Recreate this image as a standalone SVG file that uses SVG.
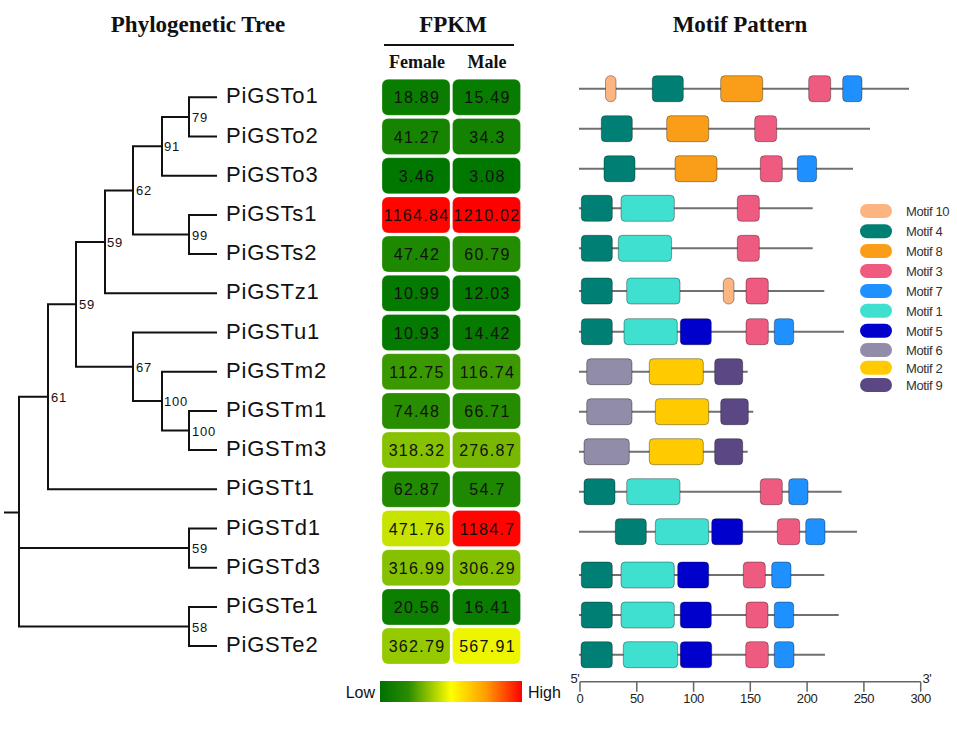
<svg xmlns="http://www.w3.org/2000/svg" width="957" height="734" viewBox="0 0 957 734">
<defs>
<linearGradient id="cbar" x1="0" y1="0" x2="1" y2="0">
<stop offset="0" stop-color="#007000"/>
<stop offset="0.2" stop-color="#2a8c00"/>
<stop offset="0.5" stop-color="#ffff00"/>
<stop offset="0.75" stop-color="#ff9a00"/>
<stop offset="1" stop-color="#ff0000"/>
</linearGradient>
<style>
.ttl{font-family:"Liberation Serif","Times New Roman",serif;font-weight:bold;font-size:23px;text-anchor:middle;fill:#111}
.sub{font-family:"Liberation Serif","Times New Roman",serif;font-weight:bold;font-size:18px;text-anchor:middle;fill:#111}
.leaf{font-family:"Liberation Sans",Arial,sans-serif;font-size:22px;letter-spacing:0.8px;fill:#111}
.bs{font-family:"Liberation Sans",Arial,sans-serif;font-size:13px;letter-spacing:0.8px;fill:#111}
.ln{stroke:#111;stroke-width:2;fill:none}
.cell rect{stroke:#ffffff;stroke-opacity:0.25;stroke-width:1}
.cell text{font-family:"Liberation Sans",Arial,sans-serif;font-size:16px;letter-spacing:1.3px;text-anchor:middle;fill:#111}
.bb{stroke:#707070;stroke-width:2}
.mf rect{stroke-width:1;stroke-opacity:0.35;stroke:#000}
.m10{fill:#fcb580}.m4{fill:#007f74}.m8{fill:#fa9e1a}.m3{fill:#ef5b80}.m7{fill:#1e90ff}
.m1{fill:#40e0d0}.m5{fill:#0000cd}.m6{fill:#918ca8}.m2{fill:#ffcb00}.m9{fill:#5c4785}
.lg{font-family:"Liberation Sans",Arial,sans-serif;font-size:13px;letter-spacing:-0.4px;fill:#333}
.ax{font-family:"Liberation Sans",Arial,sans-serif;font-size:13px;letter-spacing:-0.4px;fill:#222;text-anchor:middle}
.cb{font-family:"Liberation Sans",Arial,sans-serif;font-size:16px;fill:#111}
</style>
</defs>
<rect width="957" height="734" fill="#ffffff"/>

<g id="titles">
<text class="ttl" x="198" y="32">Phylogenetic Tree</text>
<text class="ttl" x="453" y="32">FPKM</text>
<text class="ttl" x="740" y="32">Motif Pattern</text>
<line x1="384" y1="45" x2="514" y2="45" stroke="#111" stroke-width="2"/>
<text class="sub" x="417" y="68">Female</text>
<text class="sub" x="487" y="68">Male</text>
</g>

<g id="connectors">
<path class="ln" d="M217,97.3H189V136.5H217"/>
<path class="ln" d="M189,116.9H162V175.7H217"/>
<path class="ln" d="M217,214.9H189V254.1H217"/>
<path class="ln" d="M162,146.3H133V234.5H189"/>
<path class="ln" d="M133,190.4H105V293.3H217"/>
<path class="ln" d="M217,410.9H189V450.1H217"/>
<path class="ln" d="M217,371.7H162V430.5H189"/>
<path class="ln" d="M217,332.5H133V401.1H162"/>
<path class="ln" d="M105,241.9H76V366.8H133"/>
<path class="ln" d="M76,304.3H48V489.3H217"/>
<path class="ln" d="M217,528.5H189V567.7H217"/>
<path class="ln" d="M217,606.9H189V646.1H217"/>
<path class="ln" d="M48,396.8H19V626.5H189M19,548.1H189M4,512.5H19"/>
</g>

<g id="bootstrap">
<text class="bs" x="192" y="121.9">79</text>
<text class="bs" x="164" y="151.3">91</text>
<text class="bs" x="192" y="239.5">99</text>
<text class="bs" x="136" y="195.4">62</text>
<text class="bs" x="107" y="246.9">59</text>
<text class="bs" x="192" y="435.5">100</text>
<text class="bs" x="164" y="406.1">100</text>
<text class="bs" x="136" y="371.8">67</text>
<text class="bs" x="79" y="309.3">59</text>
<text class="bs" x="51" y="401.8">61</text>
<text class="bs" x="192" y="553.1">59</text>
<text class="bs" x="192" y="631.5">58</text>
</g>

<g id="leaves">
<g id="leaf-o1"><text class="leaf" x="226" y="103.3">PiGSTo1</text></g>
<g id="leaf-o2"><text class="leaf" x="226" y="142.5">PiGSTo2</text></g>
<g id="leaf-o3"><text class="leaf" x="226" y="181.7">PiGSTo3</text></g>
<g id="leaf-s1"><text class="leaf" x="226" y="220.9">PiGSTs1</text></g>
<g id="leaf-s2"><text class="leaf" x="226" y="260.1">PiGSTs2</text></g>
<g id="leaf-z1"><text class="leaf" x="226" y="299.3">PiGSTz1</text></g>
<g id="leaf-u1"><text class="leaf" x="226" y="338.5">PiGSTu1</text></g>
<g id="leaf-m2"><text class="leaf" x="226" y="377.7">PiGSTm2</text></g>
<g id="leaf-m1"><text class="leaf" x="226" y="416.9">PiGSTm1</text></g>
<g id="leaf-m3"><text class="leaf" x="226" y="456.1">PiGSTm3</text></g>
<g id="leaf-t1"><text class="leaf" x="226" y="495.3">PiGSTt1</text></g>
<g id="leaf-d1"><text class="leaf" x="226" y="534.5">PiGSTd1</text></g>
<g id="leaf-d3"><text class="leaf" x="226" y="573.7">PiGSTd3</text></g>
<g id="leaf-e1"><text class="leaf" x="226" y="612.9">PiGSTe1</text></g>
<g id="leaf-e2"><text class="leaf" x="226" y="652.1">PiGSTe2</text></g>
</g>

<g id="heatmap">
<g class="cell" id="hm-o1"><rect x="382" y="79.3" width="68" height="36" rx="6" fill="#0a7d00"/><rect x="452.5" y="79.3" width="68" height="36" rx="6" fill="#087c00"/><text x="417" y="103.3">18.89</text><text x="487.5" y="103.3">15.49</text></g>
<g class="cell" id="hm-o2"><rect x="382" y="118.5" width="68" height="36" rx="6" fill="#168400"/><rect x="452.5" y="118.5" width="68" height="36" rx="6" fill="#128200"/><text x="417" y="142.5">41.27</text><text x="487.5" y="142.5">34.3</text></g>
<g class="cell" id="hm-o3"><rect x="382" y="157.7" width="68" height="36" rx="6" fill="#007800"/><rect x="452.5" y="157.7" width="68" height="36" rx="6" fill="#007800"/><text x="417" y="181.7">3.46</text><text x="487.5" y="181.7">3.08</text></g>
<g class="cell" id="hm-s1"><rect x="382" y="196.9" width="68" height="36" rx="6" fill="#ff0500"/><rect x="452.5" y="196.9" width="68" height="36" rx="6" fill="#ff0000"/><text x="416.5" y="220.9">1164.84</text><text x="487" y="220.9">1210.02</text></g>
<g class="cell" id="hm-s2"><rect x="382" y="236.1" width="68" height="36" rx="6" fill="#1c8900"/><rect x="452.5" y="236.1" width="68" height="36" rx="6" fill="#238c00"/><text x="417" y="260.1">47.42</text><text x="487.5" y="260.1">60.79</text></g>
<g class="cell" id="hm-z1"><rect x="382" y="275.3" width="68" height="36" rx="6" fill="#047a00"/><rect x="452.5" y="275.3" width="68" height="36" rx="6" fill="#057a00"/><text x="417" y="299.3">10.99</text><text x="487.5" y="299.3">12.03</text></g>
<g class="cell" id="hm-u1"><rect x="382" y="314.5" width="68" height="36" rx="6" fill="#047a00"/><rect x="452.5" y="314.5" width="68" height="36" rx="6" fill="#067b00"/><text x="417" y="338.5">10.93</text><text x="487.5" y="338.5">14.42</text></g>
<g class="cell" id="hm-m2"><rect x="382" y="353.7" width="68" height="36" rx="6" fill="#3a9800"/><rect x="452.5" y="353.7" width="68" height="36" rx="6" fill="#3c9900"/><text x="417" y="377.7">112.75</text><text x="487.5" y="377.7">116.74</text></g>
<g class="cell" id="hm-m1"><rect x="382" y="392.9" width="68" height="36" rx="6" fill="#288e00"/><rect x="452.5" y="392.9" width="68" height="36" rx="6" fill="#258c00"/><text x="417" y="416.9">74.48</text><text x="487.5" y="416.9">66.71</text></g>
<g class="cell" id="hm-m3"><rect x="382" y="432.1" width="68" height="36" rx="6" fill="#86c200"/><rect x="452.5" y="432.1" width="68" height="36" rx="6" fill="#78b800"/><text x="417" y="456.1">318.32</text><text x="487.5" y="456.1">276.87</text></g>
<g class="cell" id="hm-t1"><rect x="382" y="471.3" width="68" height="36" rx="6" fill="#218a00"/><rect x="452.5" y="471.3" width="68" height="36" rx="6" fill="#1d8800"/><text x="417" y="495.3">62.87</text><text x="487.5" y="495.3">54.7</text></g>
<g class="cell" id="hm-d1"><rect x="382" y="510.5" width="68" height="36" rx="6" fill="#c7e400"/><rect x="452.5" y="510.5" width="68" height="36" rx="6" fill="#ff0400"/><text x="417" y="534.5">471.76</text><text x="487.5" y="534.5">1184.7</text></g>
<g class="cell" id="hm-d3"><rect x="382" y="549.7" width="68" height="36" rx="6" fill="#85c100"/><rect x="452.5" y="549.7" width="68" height="36" rx="6" fill="#82bf00"/><text x="417" y="573.7">316.99</text><text x="487.5" y="573.7">306.29</text></g>
<g class="cell" id="hm-e1"><rect x="382" y="588.9" width="68" height="36" rx="6" fill="#0c7f00"/><rect x="452.5" y="588.9" width="68" height="36" rx="6" fill="#097d00"/><text x="417" y="612.9">20.56</text><text x="487.5" y="612.9">16.41</text></g>
<g class="cell" id="hm-e2"><rect x="382" y="628.1" width="68" height="36" rx="6" fill="#95ca00"/><rect x="452.5" y="628.1" width="68" height="36" rx="6" fill="#eef500"/><text x="417" y="652.1">362.79</text><text x="487.5" y="652.1">567.91</text></g>
</g>

<g id="colorbar">
<rect x="380" y="681" width="142" height="21" fill="url(#cbar)"/>
<text class="cb" x="375" y="698" text-anchor="end">Low</text>
<text class="cb" x="528" y="698">High</text>
</g>

<g id="motifs">
<g class="mf" id="mf-o1"><line class="bb" x1="579" y1="88.7" x2="909" y2="88.7"/>
<rect class="m10" x="605.5" y="75.7" width="10.5" height="26" rx="5"/><rect class="m4" x="652.3" y="75.7" width="31" height="26" rx="4"/><rect class="m8" x="720.7" y="75.7" width="42" height="26" rx="4"/><rect class="m3" x="808.7" y="75.7" width="22" height="26" rx="4"/><rect class="m7" x="842.7" y="75.7" width="19.3" height="26" rx="4"/></g>
<g class="mf" id="mf-o2"><line class="bb" x1="579" y1="128.7" x2="870" y2="128.7"/>
<rect class="m4" x="601.3" y="115.7" width="31" height="26" rx="4"/><rect class="m8" x="666.7" y="115.7" width="42" height="26" rx="4"/><rect class="m3" x="754.7" y="115.7" width="22" height="26" rx="4"/></g>
<g class="mf" id="mf-o3"><line class="bb" x1="579" y1="168.7" x2="853" y2="168.7"/>
<rect class="m4" x="604" y="155.7" width="31" height="26" rx="4"/><rect class="m8" x="675" y="155.7" width="42" height="26" rx="4"/><rect class="m3" x="760.3" y="155.7" width="22" height="26" rx="4"/><rect class="m7" x="797.3" y="155.7" width="19.3" height="26" rx="4"/></g>
<g class="mf" id="mf-s1"><line class="bb" x1="579" y1="208.3" x2="812.7" y2="208.3"/>
<rect class="m4" x="581.3" y="195.3" width="31" height="26" rx="4"/><rect class="m1" x="621" y="195.3" width="53.3" height="26" rx="4"/><rect class="m3" x="737.3" y="195.3" width="22" height="26" rx="4"/></g>
<g class="mf" id="mf-s2"><line class="bb" x1="579" y1="248.3" x2="812.7" y2="248.3"/>
<rect class="m4" x="581.3" y="235.3" width="31" height="26" rx="4"/><rect class="m1" x="618.3" y="235.3" width="53.3" height="26" rx="4"/><rect class="m3" x="737.3" y="235.3" width="22" height="26" rx="4"/></g>
<g class="mf" id="mf-z1"><line class="bb" x1="579" y1="291" x2="824.3" y2="291"/>
<rect class="m4" x="581.3" y="278" width="31" height="26" rx="4"/><rect class="m1" x="626.7" y="278" width="53.3" height="26" rx="4"/><rect class="m10" x="723.3" y="278" width="10.7" height="26" rx="5"/><rect class="m3" x="746" y="278" width="22.3" height="26" rx="4"/></g>
<g class="mf" id="mf-u1"><line class="bb" x1="579" y1="331.7" x2="844" y2="331.7"/>
<rect class="m4" x="581.3" y="318.7" width="31" height="26" rx="4"/><rect class="m1" x="624" y="318.7" width="53.3" height="26" rx="4"/><rect class="m5" x="680.3" y="318.7" width="31" height="26" rx="4"/><rect class="m3" x="746" y="318.7" width="22.3" height="26" rx="4"/><rect class="m7" x="774.3" y="318.7" width="19.4" height="26" rx="4"/></g>
<g class="mf" id="mf-m2"><line class="bb" x1="579" y1="371.7" x2="747.7" y2="371.7"/>
<rect class="m6" x="586.7" y="358.7" width="45.3" height="26" rx="4"/><rect class="m2" x="649.3" y="358.7" width="54" height="26" rx="4"/><rect class="m9" x="714.7" y="358.7" width="28" height="26" rx="4"/></g>
<g class="mf" id="mf-m1"><line class="bb" x1="579" y1="411.7" x2="753.3" y2="411.7"/>
<rect class="m6" x="586.7" y="398.7" width="45.3" height="26" rx="4"/><rect class="m2" x="655.3" y="398.7" width="53.4" height="26" rx="4"/><rect class="m9" x="720.7" y="398.7" width="27.6" height="26" rx="4"/></g>
<g class="mf" id="mf-m3"><line class="bb" x1="579" y1="451.7" x2="747.7" y2="451.7"/>
<rect class="m6" x="584" y="438.7" width="45.3" height="26" rx="4"/><rect class="m2" x="649.3" y="438.7" width="54" height="26" rx="4"/><rect class="m9" x="714.7" y="438.7" width="28" height="26" rx="4"/></g>
<g class="mf" id="mf-t1"><line class="bb" x1="579" y1="491.7" x2="841.7" y2="491.7"/>
<rect class="m4" x="584" y="478.7" width="31" height="26" rx="4"/><rect class="m1" x="626.7" y="478.7" width="53.3" height="26" rx="4"/><rect class="m3" x="760.3" y="478.7" width="22" height="26" rx="4"/><rect class="m7" x="788.7" y="478.7" width="19.3" height="26" rx="4"/></g>
<g class="mf" id="mf-d1"><line class="bb" x1="579" y1="531.7" x2="857" y2="531.7"/>
<rect class="m4" x="615.3" y="518.7" width="31" height="26" rx="4"/><rect class="m1" x="655.3" y="518.7" width="53.4" height="26" rx="4"/><rect class="m5" x="711.7" y="518.7" width="31" height="26" rx="4"/><rect class="m3" x="777.3" y="518.7" width="22.4" height="26" rx="4"/><rect class="m7" x="805.7" y="518.7" width="19.3" height="26" rx="4"/></g>
<g class="mf" id="mf-d3"><line class="bb" x1="579" y1="575" x2="824.3" y2="575"/>
<rect class="m4" x="581.3" y="562" width="31" height="26" rx="4"/><rect class="m1" x="621" y="562" width="53.3" height="26" rx="4"/><rect class="m5" x="677.7" y="562" width="31" height="26" rx="4"/><rect class="m3" x="743.3" y="562" width="22" height="26" rx="4"/><rect class="m7" x="771.7" y="562" width="19.3" height="26" rx="4"/></g>
<g class="mf" id="mf-e1"><line class="bb" x1="579" y1="615" x2="838.7" y2="615"/>
<rect class="m4" x="581.3" y="602" width="31" height="26" rx="4"/><rect class="m1" x="621" y="602" width="53.3" height="26" rx="4"/><rect class="m5" x="680.3" y="602" width="31" height="26" rx="4"/><rect class="m3" x="746" y="602" width="22" height="26" rx="4"/><rect class="m7" x="774.3" y="602" width="19.4" height="26" rx="4"/></g>
<g class="mf" id="mf-e2"><line class="bb" x1="579" y1="654.7" x2="825" y2="654.7"/>
<rect class="m4" x="581" y="641.7" width="31.3" height="26" rx="4"/><rect class="m1" x="623.3" y="641.7" width="54.4" height="26" rx="4"/><rect class="m5" x="680.3" y="641.7" width="31.4" height="26" rx="4"/><rect class="m3" x="745.7" y="641.7" width="22.6" height="26" rx="4"/><rect class="m7" x="774.3" y="641.7" width="19.7" height="26" rx="4"/></g>
</g>

<g id="axis">
<line x1="580" y1="681.7" x2="920.7" y2="681.7" stroke="#666" stroke-width="1.5"/>
<path d="M580,681.7V691.7M636.8,681.7V691.7M693.6,681.7V691.7M750.3,681.7V691.7M807.1,681.7V691.7M863.9,681.7V691.7M920.7,681.7V691.7" stroke="#666" stroke-width="1.5" fill="none"/>
<text class="ax" x="580" y="703">0</text>
<text class="ax" x="636.8" y="703">50</text>
<text class="ax" x="693.6" y="703">100</text>
<text class="ax" x="750.3" y="703">150</text>
<text class="ax" x="807.1" y="703">200</text>
<text class="ax" x="863.9" y="703">250</text>
<text class="ax" x="920.7" y="703">300</text>
<text class="ax" x="575" y="683">5'</text>
<text class="ax" x="927" y="683">3'</text>
</g>

<g id="legend">
<g id="lg-10"><rect class="m10" x="860" y="204" width="32" height="14" rx="7"/><text class="lg" x="906" y="216">Motif 10</text></g>
<g id="lg-4"><rect class="m4" x="860" y="224.3" width="32" height="14" rx="7"/><text class="lg" x="906" y="236.3">Motif 4</text></g>
<g id="lg-8"><rect class="m8" x="860" y="244" width="32" height="14" rx="7"/><text class="lg" x="906" y="256">Motif 8</text></g>
<g id="lg-3"><rect class="m3" x="860" y="264" width="32" height="14" rx="7"/><text class="lg" x="906" y="276">Motif 3</text></g>
<g id="lg-7"><rect class="m7" x="860" y="284" width="32" height="14" rx="7"/><text class="lg" x="906" y="296">Motif 7</text></g>
<g id="lg-1"><rect class="m1" x="860" y="303.7" width="32" height="14" rx="7"/><text class="lg" x="906" y="315.7">Motif 1</text></g>
<g id="lg-5"><rect class="m5" x="860" y="323.7" width="32" height="14" rx="7"/><text class="lg" x="906" y="335.7">Motif 5</text></g>
<g id="lg-6"><rect class="m6" x="860" y="343" width="32" height="14" rx="7"/><text class="lg" x="906" y="355">Motif 6</text></g>
<g id="lg-2"><rect class="m2" x="860" y="360.7" width="32" height="14" rx="7"/><text class="lg" x="906" y="372.7">Motif 2</text></g>
<g id="lg-9"><rect class="m9" x="860" y="378" width="32" height="14" rx="7"/><text class="lg" x="906" y="390">Motif 9</text></g>
</g>
</svg>
